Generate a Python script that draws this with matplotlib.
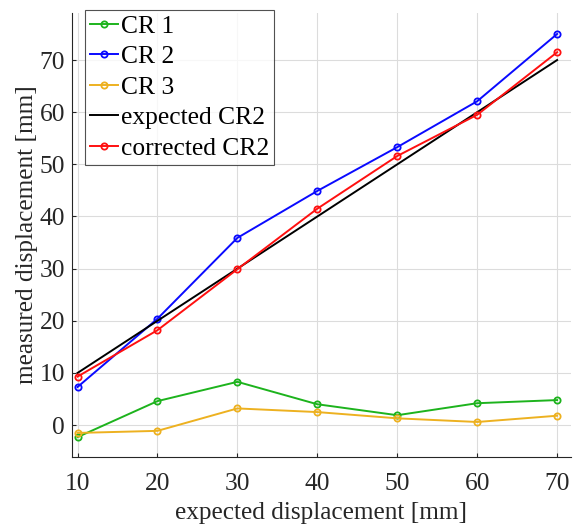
import numpy as np
import matplotlib.pyplot as plt

plt.rcParams['font.family'] = ['Liberation Serif', 'DejaVu Serif']

# data
x = [10, 20, 30, 40, 50, 60, 70]
cr1 = [-2.3, 4.6, 8.3, 4.0, 1.9, 4.2, 4.8]
cr2 = [7.3, 20.4, 35.9, 44.9, 53.3, 62.1, 75.0]
cr3 = [-1.5, -1.1, 3.2, 2.5, 1.3, 0.6, 1.8]
expected = [10, 70]
expected_x = [10, 70]
corrected = [9.3, 18.2, 29.9, 41.5, 51.6, 59.5, 71.5]

fig = plt.figure(figsize=(5.8, 5.24), dpi=100)
ax = fig.add_axes([0.124, 0.128, 0.86, 0.847])

mk = dict(marker='o', markersize=4.5, markerfacecolor='none', markeredgewidth=1.3, linewidth=1.4)
ax.plot(x, cr1, color='#1db31d', label='CR 1', **mk)
ax.plot(x, cr2, color='#0a0aff', label='CR 2', **mk)
ax.plot(x, cr3, color='#edb120', label='CR 3', **mk)
ax.plot(expected_x, expected, color='black', linewidth=1.4, label='expected CR2')
ax.plot(x, corrected, color='#ff1010', label='corrected CR2', **mk)

ax.set_xlim(9.3, 71.7)
ax.set_ylim(-6.1, 79)
ax.set_xticks(x)
ax.set_yticks([0, 10, 20, 30, 40, 50, 60, 70])
ax.grid(True, color='#dcdcdc', linewidth=0.8)
ax.set_axisbelow(True)
for s in ['top', 'right']:
    ax.spines[s].set_visible(False)
for s in ['left', 'bottom']:
    ax.spines[s].set_color('#262626')
ax.tick_params(direction='in', length=3, labelsize=18.4, colors='#262626')
ax.tick_params(axis='x', pad=11.5)
ax.tick_params(axis='y', pad=5)
ax.set_xlabel('expected displacement [mm]', fontsize=18.2, color='#262626', labelpad=5)
ax.set_ylabel('measured displacement [mm]', fontsize=18.2, color='#262626', labelpad=1)

leg = ax.legend(loc='upper left', bbox_to_anchor=(0.026, 1.008), fontsize=18.4,
                frameon=True, fancybox=False, handlelength=1.1, handletextpad=0.1,
                borderpad=0.2, labelspacing=0.3, borderaxespad=0)
leg.get_frame().set_edgecolor('#262626')
leg.get_frame().set_linewidth(0.8)

plt.savefig('out.png', dpi=100)
